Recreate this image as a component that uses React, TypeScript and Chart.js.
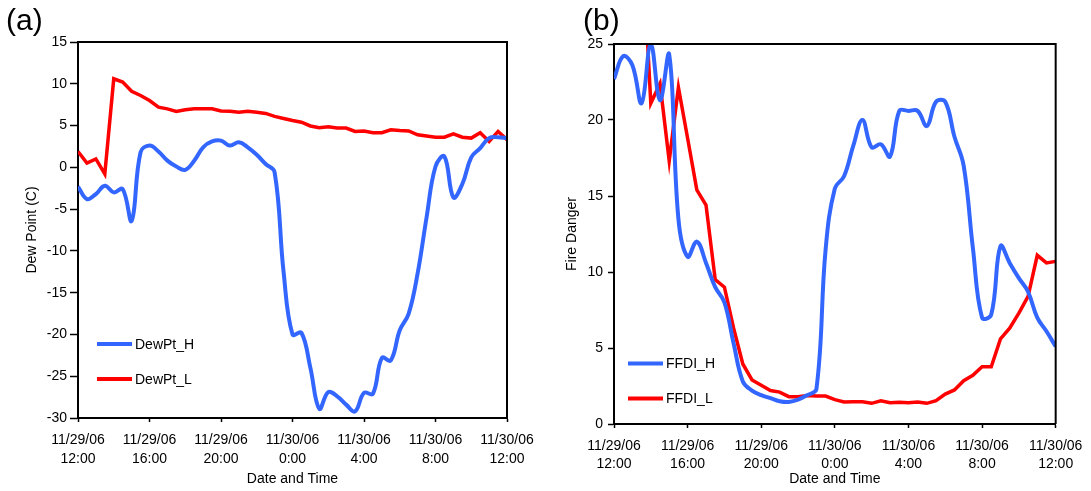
import React, { useEffect, useRef } from "react";
import { Chart, registerables } from "chart.js";

Chart.register(...registerables);

// Hours after 11/29/06 12:00 (half-hourly readings)
const hours = [
  0, 0.5, 1, 1.5, 2, 2.5, 3, 3.5, 4, 4.5, 5, 5.5, 6, 6.5, 7, 7.5, 8, 8.5, 9, 9.5,
  10, 10.5, 11, 11.5, 12, 12.5, 13, 13.5, 14, 14.5, 15, 15.5, 16, 16.5, 17, 17.5,
  18, 18.5, 19, 19.5, 20, 20.5, 21, 21.5, 22, 22.5, 23, 23.5, 24,
];

const dewPtH = [
  -2.3, -3.8, -3.2, -2.2, -3.0, -2.6, -6.4, 1.8, 2.6, 1.9, 0.8, 0.1, -0.3, 0.8, 2.4, 3.1, 3.2, 2.6, 3.0, 2.4,
  1.5, 0.4, -0.6, -12.5, -20.0, -19.8, -24.0, -28.9, -26.9, -27.4, -28.4, -29.2, -27.0, -27.1, -22.8, -23.1,
  -19.5, -17.5, -12.7, -6.0, 0.1, 1.3, -3.6, -2.0, 1.2, 2.3, 3.5, 3.6, 3.5,
];

const dewPtL = [
  1.9, 0.5, 1.0, -0.8, 10.6, 10.2, 9.1, 8.6, 8.0, 7.2, 7.0, 6.7, 6.9, 7.0, 7.0, 7.0, 6.75, 6.7, 6.6, 6.7,
  6.6, 6.45, 6.1, 5.85, 5.6, 5.4, 4.95, 4.75, 4.85, 4.7, 4.7, 4.3, 4.35, 4.15, 4.15, 4.5,
  4.4, 4.35, 3.9, 3.75, 3.6, 3.6, 4.0, 3.6, 3.5, 4.15, 3.1, 4.3, 3.3,
];

const ffdiH = [
  22.7, 24.2, 23.6, 21.1, 25.0, 21.3, 24.3, 13.5, 11.0, 12.0, 10.6, 9.0, 8.0, 5.3, 2.8, 2.2, 1.9, 1.7, 1.5, 1.45,
  1.6, 1.9, 2.3, 11.5, 15.5, 16.3, 18.3, 20.0, 18.2, 18.4, 17.6, 20.6, 20.6, 20.6, 19.6, 21.2,
  21.2, 18.9, 17.0, 11.6, 7.0, 7.2, 11.7, 10.6, 9.6, 8.7, 7.0, 6.1, 5.1,
];

const ffdiL = [
  30.5, 29.0, 30.0, 32.5, 21.1, 22.4, 17.3, 22.15, 18.8, 15.4, 14.4, 9.5, 9.0, 6.3, 3.95, 2.9, 2.55, 2.2, 2.1, 1.8,
  1.8, 1.88, 1.85, 1.84, 1.6, 1.45, 1.47, 1.47, 1.36, 1.53, 1.4, 1.43, 1.4, 1.45, 1.36, 1.53,
  1.97, 2.24, 2.85, 3.2, 3.77, 3.77, 5.6, 6.3, 7.3, 8.4, 11.1, 10.6, 10.7,
];

const xTickDates = ["11/29/06", "11/29/06", "11/29/06", "11/30/06", "11/30/06", "11/30/06", "11/30/06"];
const xTickTimes = ["12:00", "16:00", "20:00", "0:00", "4:00", "8:00", "12:00"];

const FONT = "'Liberation Sans', Arial, Helvetica, sans-serif";
const BLUE = "#3366FF";
const RED = "#FF0000";

Chart.defaults.font.family = FONT;
Chart.defaults.color = "#000";

const framePlugin = {
  id: "frame",
  afterDatasetsDraw(chart: any) {
    const { ctx, chartArea: a } = chart;
    ctx.save();
    ctx.strokeStyle = "#000";
    ctx.lineWidth = 2;
    ctx.beginPath();
    ctx.moveTo(a.left, a.top);
    ctx.lineTo(a.right, a.top);
    ctx.lineTo(a.right, a.bottom);
    ctx.stroke();
    ctx.restore();
  },
};

const insetLegendPlugin = {
  id: "insetLegend",
  afterDraw(chart: any, _args: any, opts: any) {
    const { ctx, chartArea: a } = chart;
    ctx.save();
    chart.data.datasets.forEach((ds: any, i: number) => {
      const y = a.top + opts.y + i * opts.spacing;
      const x0 = a.left + opts.x;
      ctx.strokeStyle = ds.borderColor;
      ctx.lineWidth = 4;
      ctx.beginPath();
      ctx.moveTo(x0, y);
      ctx.lineTo(x0 + opts.len, y);
      ctx.stroke();
      ctx.fillStyle = "#000";
      ctx.font = `14px ${FONT}`;
      ctx.textBaseline = "middle";
      ctx.textAlign = "left";
      ctx.fillText(ds.label, x0 + opts.len + opts.gap, y + 1);
    });
    ctx.restore();
  },
};

type Cfg = {
  labels: [string, string];
  series: [number[], number[]];
  yMin: number;
  yMax: number;
  yTitle: string;
  padding: { left: number; right: number; top: number; bottom: number };
  yWidth: number;
  xHeight: number;
  yTitlePad: number;
  yTickLen: number;
  yTickPad: number;
  xLineHeight: number;
  xTickPad: number;
  legend: { x: number; y: number; spacing: number; len: number; gap: number };
};

function LineChart({ cfg, width, height }: { cfg: Cfg; width: number; height: number }) {
  const ref = useRef<HTMLCanvasElement | null>(null);
  useEffect(() => {
    if (!ref.current) return;
    const chart = new Chart(ref.current, {
      type: "line",
      data: {
        datasets: [
          {
            label: cfg.labels[0],
            data: hours.map((h, i) => ({ x: h, y: cfg.series[0][i] })),
            borderColor: BLUE,
            backgroundColor: BLUE,
            borderWidth: 4,
            pointRadius: 0,
            tension: 0.4,
            fill: false,
          },
          {
            label: cfg.labels[1],
            data: hours.map((h, i) => ({ x: h, y: cfg.series[1][i] })),
            borderColor: RED,
            backgroundColor: RED,
            borderWidth: 3.5,
            pointRadius: 0,
            tension: 0,
            fill: false,
          },
        ],
      },
      options: {
        responsive: false,
        animation: false,
        layout: { padding: cfg.padding },
        plugins: {
          legend: { display: false },
          tooltip: { enabled: false },
          insetLegend: cfg.legend,
        } as any,
        scales: {
          x: {
            type: "linear",
            min: 0,
            max: 24,
            afterFit: (s: any) => {
              s.height = cfg.xHeight;
            },
            ticks: {
              stepSize: 4,
              autoSkip: false,
              maxRotation: 0,
              padding: cfg.xTickPad,
              color: "#000",
              font: { size: 14, lineHeight: cfg.xLineHeight },
              callback: (v: any) => {
                const i = Math.round(Number(v) / 4);
                return [xTickDates[i], xTickTimes[i]];
              },
            },
            grid: {
              display: true,
              drawOnChartArea: false,
              drawTicks: true,
              tickLength: 4,
              color: "#000",
              tickWidth: 1.5,
            },
            border: { display: true, color: "#000", width: 2 },
            title: {
              display: true,
              text: "Date and Time",
              color: "#000",
              font: { size: 14 },
              padding: { top: 0, bottom: 3 },
            },
          },
          y: {
            type: "linear",
            min: cfg.yMin,
            max: cfg.yMax,
            afterFit: (s: any) => {
              s.width = cfg.yWidth;
            },
            ticks: {
              stepSize: 5,
              padding: cfg.yTickPad,
              color: "#000",
              font: { size: 14 },
            },
            grid: {
              display: true,
              drawOnChartArea: false,
              drawTicks: true,
              tickLength: cfg.yTickLen,
              color: "#000",
              tickWidth: 1.5,
            },
            border: { display: true, color: "#000", width: 2 },
            title: {
              display: true,
              text: cfg.yTitle,
              color: "#000",
              font: { size: 14 },
              padding: { top: cfg.yTitlePad, bottom: 0 },
            },
          },
        },
      },
      plugins: [framePlugin, insetLegendPlugin],
    } as any);
    return () => chart.destroy();
  }, [cfg]);
  return <canvas ref={ref} width={width} height={height} style={{ display: "block" }} />;
}

const cfgA: Cfg = {
  labels: ["DewPt_H", "DewPt_L"],
  series: [dewPtH, dewPtL],
  yMin: -30,
  yMax: 15,
  yTitle: "Dew Point (C)",
  padding: { left: 0, right: 38, top: 42, bottom: 0 },
  yWidth: 78,
  xHeight: 73,
  yTitlePad: 24,
  yTickLen: 8,
  yTickPad: 3,
  xLineHeight: 1.37,
  xTickPad: 8.7,
  legend: { x: 19, y: 302, spacing: 35, len: 35, gap: 3 },
};

const cfgB: Cfg = {
  labels: ["FFDI_H", "FFDI_L"],
  series: [ffdiH, ffdiL],
  yMin: 0,
  yMax: 25,
  yTitle: "Fire Danger",
  padding: { left: 0, right: 31, top: 44, bottom: 0 },
  yWidth: 69,
  xHeight: 67,
  yTitlePad: 18.6,
  yTickLen: 6,
  yTickPad: 5,
  xLineHeight: 1.31,
  xTickPad: 8.6,
  legend: { x: 14, y: 319.5, spacing: 35, len: 35, gap: 3 },
};

const panelLabel: React.CSSProperties = {
  position: "absolute",
  top: 5,
  fontFamily: FONT,
  fontSize: 30,
  lineHeight: "30px",
  color: "#000",
};

export default function App() {
  return (
    <div style={{ position: "absolute", left: 0, top: 0, width: 1091, height: 491, background: "#fff" }}>
      <div style={{ position: "absolute", left: 0, top: 0 }}>
        <LineChart cfg={cfgA} width={545} height={491} />
      </div>
      <div style={{ position: "absolute", left: 545, top: 0 }}>
        <LineChart cfg={cfgB} width={546} height={491} />
      </div>
      <div style={{ ...panelLabel, left: 6 }}>(a)</div>
      <div style={{ ...panelLabel, left: 583 }}>(b)</div>
    </div>
  );
}
